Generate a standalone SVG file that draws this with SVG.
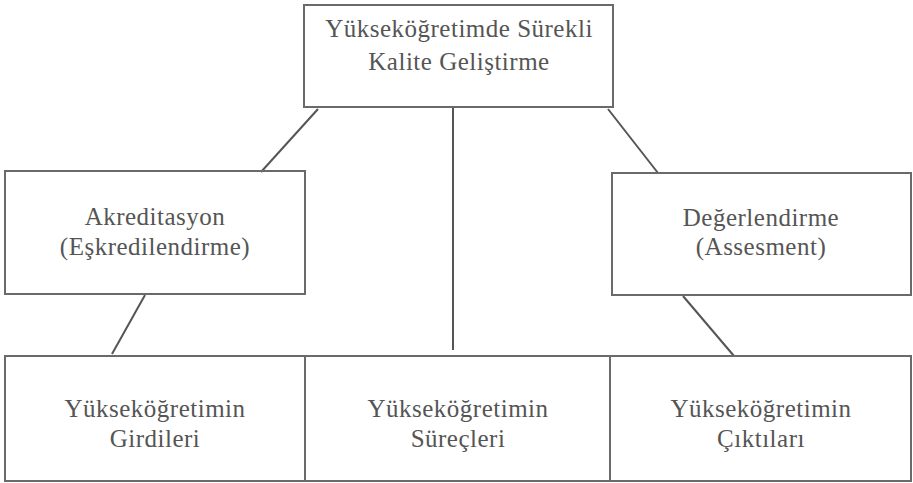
<svg xmlns="http://www.w3.org/2000/svg" width="913" height="483" viewBox="0 0 913 483">
<style>
.box{fill:none;stroke:#6a6a6a;stroke-width:2}
.ln{stroke:#555;stroke-width:2;fill:none}
text{font-family:"Liberation Serif","Times New Roman",serif;font-size:25px;fill:#555;text-anchor:middle;letter-spacing:0.5px}
</style>
<rect width="913" height="483" fill="#fff"/>
<g id="connectors">
<line class="ln" x1="318" y1="109" x2="261" y2="172"/>
<line class="ln" x1="608" y1="109" x2="658" y2="173"/>
<line class="ln" x1="453" y1="107" x2="453" y2="350"/>
<line class="ln" x1="145" y1="295" x2="112" y2="354"/>
<line class="ln" x1="683" y1="296" x2="734" y2="356"/>
</g>
<g id="top">
<rect class="box" x="304" y="5" width="309" height="102"/>
<text x="459" y="37" letter-spacing="1">Yükseköğretimde Sürekli</text>
<text x="459" y="70" letter-spacing="1">Kalite Geliştirme</text>
</g>
<g id="akreditasyon">
<rect class="box" x="5" y="171" width="300" height="123"/>
<text x="155" y="225">Akreditasyon</text>
<text x="155" y="255">(Eşkredilendirme)</text>
</g>
<g id="degerlendirme">
<rect class="box" x="612" y="173" width="299" height="122"/>
<text x="761" y="226">Değerlendirme</text>
<text x="761" y="255">(Assesment)</text>
</g>
<g id="girdiler">
<rect class="box" x="5" y="356" width="300" height="125"/>
<text x="155" y="417">Yükseköğretimin</text>
<text x="155" y="447">Girdileri</text>
</g>
<g id="surecler">
<rect class="box" x="305" y="356" width="305" height="125"/>
<text x="458" y="417">Yükseköğretimin</text>
<text x="458" y="447">Süreçleri</text>
</g>
<g id="ciktilar">
<rect class="box" x="610" y="356" width="301" height="125"/>
<text x="761" y="417">Yükseköğretimin</text>
<text x="761" y="447">Çıktıları</text>
</g>
</svg>
